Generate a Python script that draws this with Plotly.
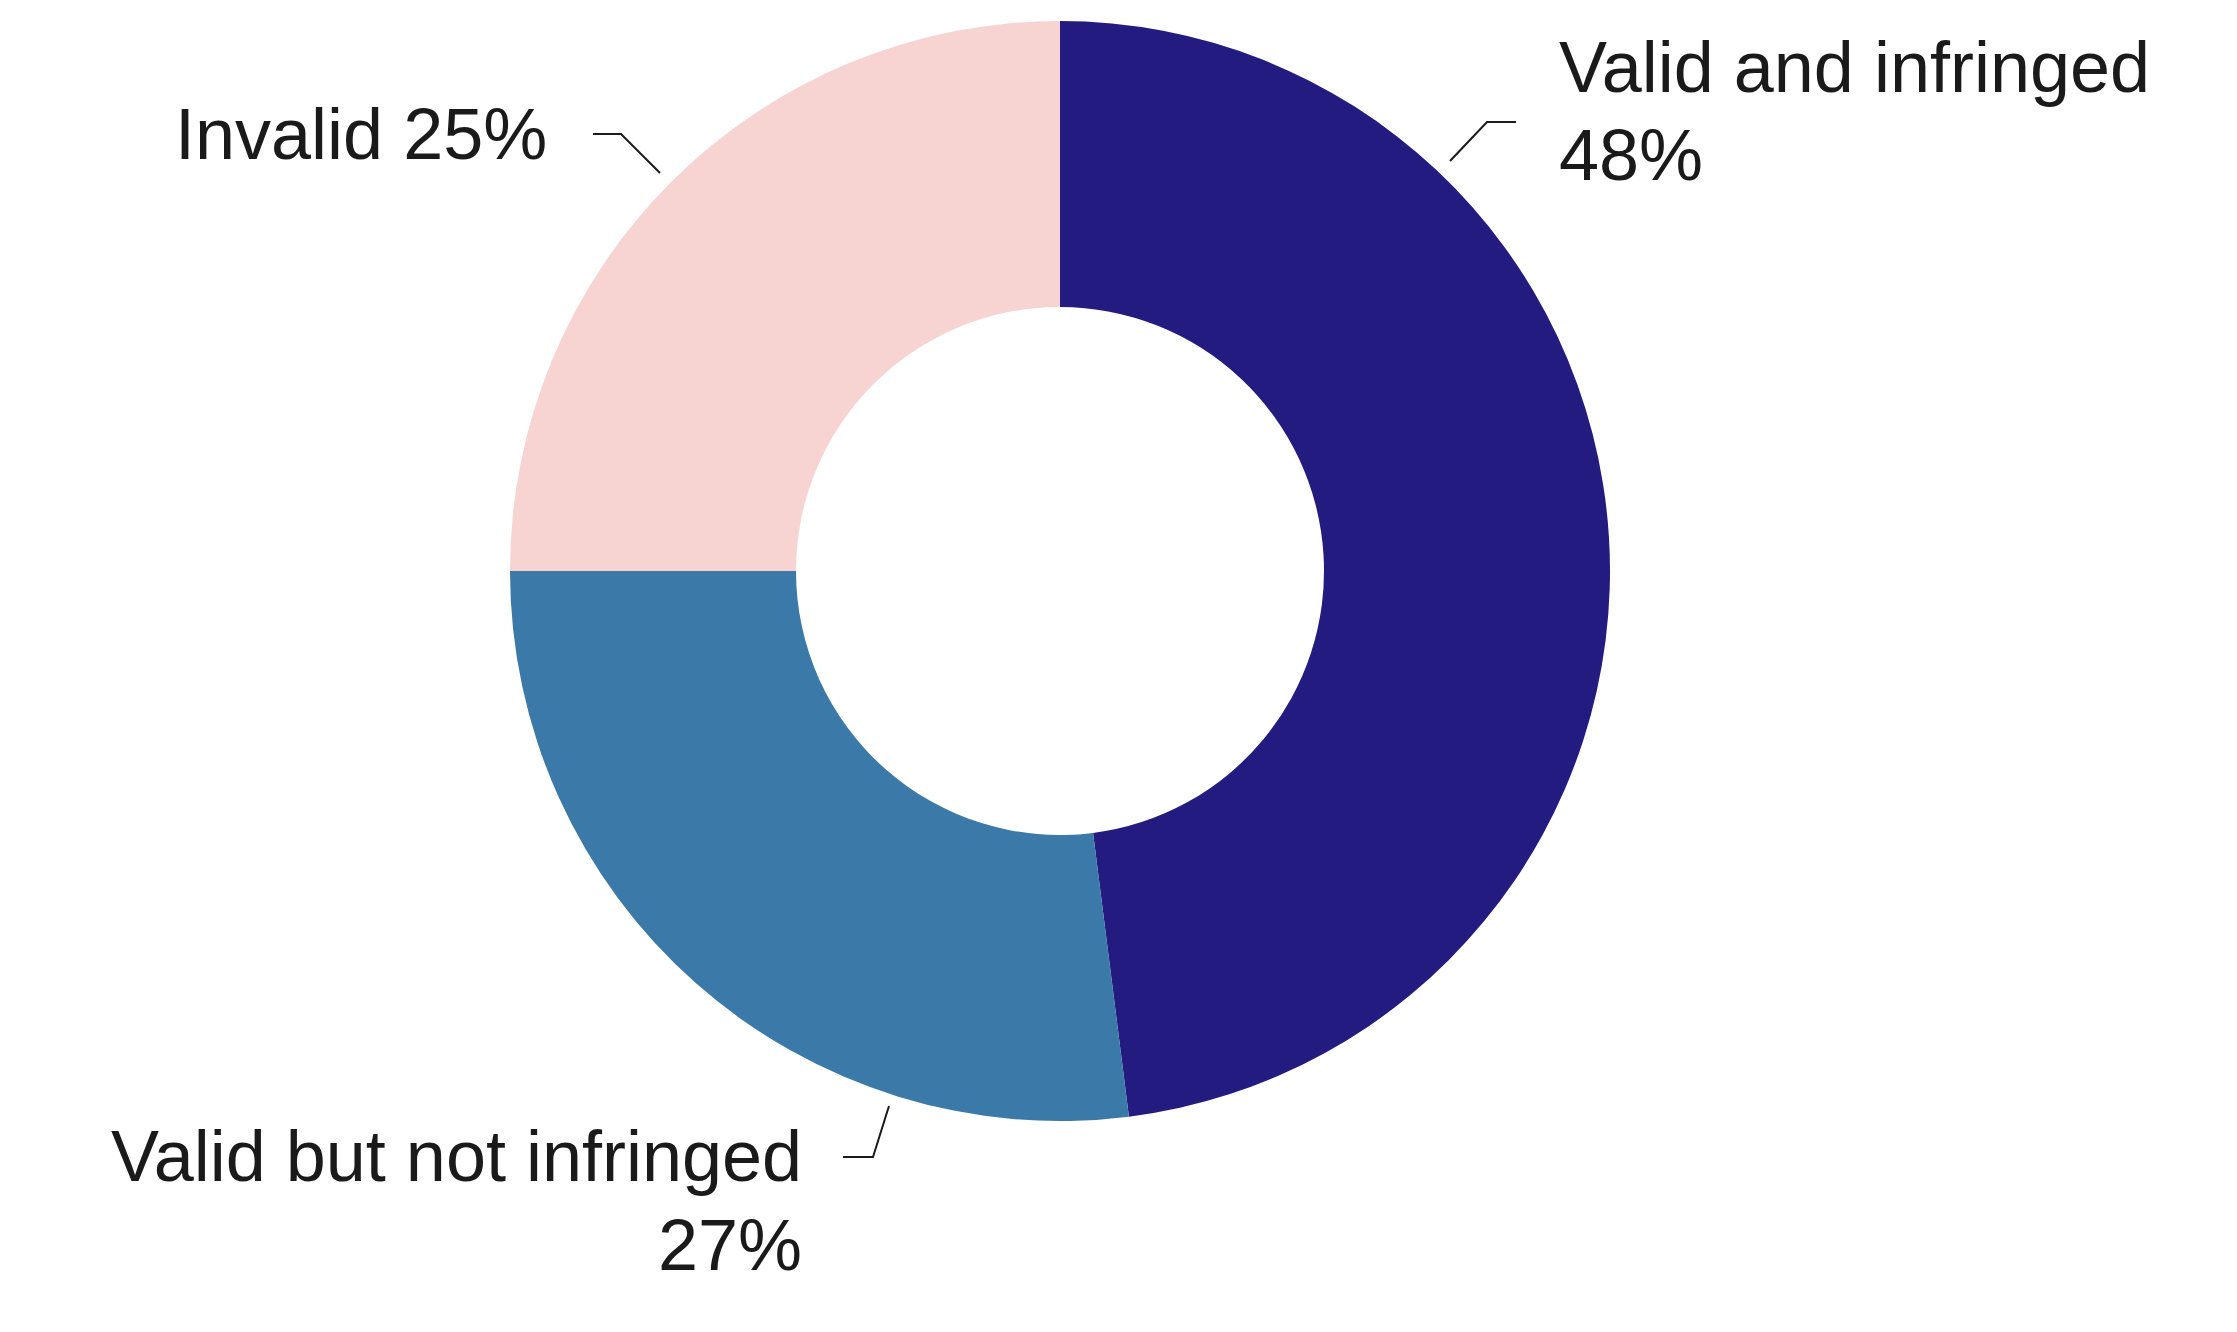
import plotly.graph_objects as go

# slice data, clockwise from 12 o'clock
labels = ['Valid and infringed', 'Valid but not infringed', 'Invalid']
shares = [48, 27, 25]
colors = ['#231b7f', '#3b7aa8', '#f7d3d1']

W, H = 2237, 1332
FONT = 'Liberation Sans, Arial, sans-serif'
FS = 72


def px(x):
    return x / W


def py(y):
    return 1 - y / H


fig = go.Figure(go.Pie(
    labels=labels,
    values=shares,
    sort=False,
    direction='clockwise',
    rotation=0,
    hole=0.48,
    marker=dict(colors=colors, line=dict(width=0)),
    textinfo='none',
    hoverinfo='label+percent',
    showlegend=False,
    domain=dict(x=[px(508), px(1612)], y=[py(1121), py(21)]),
))

# label lines: (text, x, anchor, baseline y) in pixels
label_lines = [
    (f'{labels[2]} {shares[2]}%', 549, 'right', 161),
    (labels[0], 1557, 'left', 94),
    (f'{shares[0]}%', 1557, 'left', 182),
    (labels[1], 804, 'right', 1183),
    (f'{shares[1]}%', 804, 'right', 1272),
]
for text, x, anchor, base in label_lines:
    fig.add_annotation(
        text=text, x=px(x), y=py(base - 0.37 * FS),
        xref='paper', yref='paper', xanchor=anchor, yanchor='middle',
        showarrow=False, font=dict(family=FONT, size=FS, color='#1a1a1a'),
    )

# leader lines
leaders = [
    [(593, 134), (621, 134), (660, 173)],
    [(1516, 122), (1487, 122), (1450, 161)],
    [(843, 1157), (873, 1157), (889, 1106)],
]
for pts in leaders:
    path = 'M ' + ' L '.join(f'{px(x)},{py(y)}' for x, y in pts)
    fig.add_shape(type='path', path=path, xref='paper', yref='paper',
                  line=dict(color='#1a1a1a', width=2))

fig.update_layout(
    width=W, height=H,
    margin=dict(l=0, r=0, t=0, b=0),
    paper_bgcolor='white',
    plot_bgcolor='white',
)

# drop the default page margin so the figure sits at the window corner
fig.write_html('out.html', config={'displayModeBar': False},
               post_script="document.body.style.margin = '0';")
